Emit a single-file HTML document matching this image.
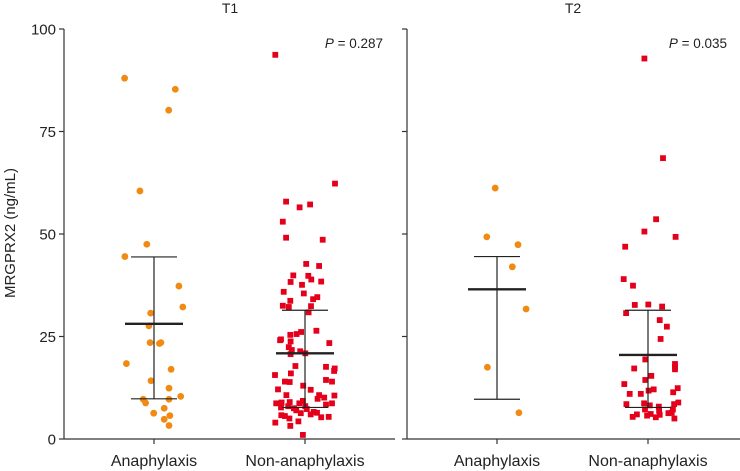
<!DOCTYPE html>
<html><head><meta charset="utf-8"><style>
body{margin:0;background:#fff}
svg{display:block;font-family:"Liberation Sans",sans-serif}
</style></head><body>
<svg id="chart" width="740" height="471" viewBox="0 0 740 471"></svg>
<script>
const categories=["Anaphylaxis","Non-anaphylaxis"];
const panels=["T1","T2"];
const pValues=["0.287","0.035"];
const yTicks=[0,25,50,75,100];
const t1AnaValues=[88,85.3,80.2,60.5,47.5,44.5,37.3,32.2,30.7,27.6,23.5,23.3,23.5,18.4,17,14.2,12.4,10.4,9.7,8.8,9.7,7.5,6.3,5.7,4.8,3.3];
const t1AnaJitter=[-0.98,0.71,0.49,-0.47,-0.24,-0.97,0.83,0.96,-0.11,-0.17,-0.13,0.18,0.23,-0.92,0.57,-0.10,0.5,0.89,-0.36,-0.28,0.5,0.34,-0.01,0.53,0.34,0.5];
const t1NonValues=[93.7,62.3,57.9,57.2,56.5,53,49.1,48.6,42.7,42.2,39.9,39.8,38.9,38.3,38.4,37.6,35.9,35.5,34.6,34.1,33.7,32.5,32.2,32.4,30.9,26.4,26.1,25.6,25.4,24.3,24.1,23.8,23.4,22.4,21.7,21.4,20.7,20.9,17.8,17.6,17.2,16.6,16,15.6,14,13.9,14.4,14,13,12.1,12,10.7,10.7,10.6,10.1,9.8,8.7,8.9,9,9.3,8.7,8.4,8.7,7.7,8.0,7.5,7,8,7.3,6.6,6.4,6,6.3,5.8,5.6,5.3,5.4,5,4,4.3,3.2,1];
const t1NonJitter=[-0.99,1.0,-0.63,0.17,-0.18,-0.74,-0.63,0.59,0.04,0.47,-0.39,0.11,0.21,-0.48,0.54,-0.1,-0.71,-0.04,0.41,0.27,-0.49,-0.74,-0.54,0.2,0.12,0.38,-0.13,-0.28,-0.49,-0.8,-0.83,-0.48,0.81,-0.54,-0.44,-0.16,-0.48,0.01,-0.32,0.7,0.99,0.97,-0.47,-1.0,-0.67,-0.51,0.7,0.9,-0.06,-0.9,0.19,-0.62,0.47,0.98,0.64,0.42,-0.96,-0.78,-0.51,-0.07,-0.19,0.7,0.9,-0.8,-0.56,-0.37,-0.29,0.01,0.06,0.29,0.4,0.19,-0.14,-0.79,-0.67,0.54,0.79,-0.52,-0.99,-0.22,-0.49,-0.07];
const t2AnaValues=[61.2,49.3,47.4,42,31.7,17.5,6.4];
const t2AnaJitter=[-0.06,-0.34,0.7,0.51,0.97,-0.32,0.73];
const t2NonValues=[92.8,68.5,53.6,50.6,49.3,46.9,39,37.4,32.7,32.8,32.3,30.7,29,27.4,24.4,19.4,18.3,17.2,17.6,17,15.4,14.4,13.4,12.1,11.8,12.4,11,11,11.4,8.5,8.7,8.2,7.9,8.5,8.9,7.2,6.9,7.2,6,5.7,6.1,5.9,6.3,6.4,5.4,5.3,5];
const t2NonJitter=[-0.12,0.5,0.27,-0.12,0.92,-0.76,-0.81,-0.5,-0.44,0.01,0.47,-0.73,0.39,0.63,0.42,-0.09,0.9,-0.46,0.9,0.9,0.11,-0.09,-0.79,0.19,0.02,0.99,-0.61,-0.24,0.84,-0.72,-0.13,0.06,0.36,0.87,1.01,-0.1,0.37,0.83,-0.37,-0.03,0.09,0.39,0.68,0.79,-0.51,0.26,0.88];
const means=[[28.1,20.9],[36.5,20.5]];
const sdUpper=[[44.4,31.4],[44.5,31.4]];
const sdLower=[[9.8,7.7],[9.7,7.7]];

const NS="http://www.w3.org/2000/svg";
const svg=document.getElementById('chart');
function mk(tag,attrs,parent){const e=document.createElementNS(NS,tag);for(const k in attrs)e.setAttribute(k,attrs[k]);(parent||svg).appendChild(e);return e;}
function y(v){return 439-4.1*v;}
const panelGeom=[{x0:64,x1:395,centers:[154,305],title:230,pRight:383},{x0:407,x1:740,centers:[497,648],title:573,pRight:727}];
const series=[[[t1AnaValues,t1AnaJitter],[t1NonValues,t1NonJitter]],[[t2AnaValues,t2AnaJitter],[t2NonValues,t2NonJitter]]];
function xPos(p,c,j){return panelGeom[p].centers[c]+j*30;}

const yt=mk('text',{x:0,y:0,transform:'translate(15,233) rotate(-90)','text-anchor':'middle','font-size':'15',fill:'#222'});
yt.textContent='MRGPRX2 (ng/mL)';



panelGeom.forEach((g,p)=>{
  const grp=mk('g',{});
  
  
  const t=mk('text',{x:g.title,y:13,'text-anchor':'middle','font-size':'14',fill:'#222'},grp);
  t.textContent=panels[p];
  
  
  const ax=mk('line',{x1:g.x0,y1:y(100),x2:g.x0,y2:y(0),stroke:'#333','stroke-width':1.2},grp);
  
  
  const xa=mk('line',{x1:g.x0,y1:y(0),x2:g.x1,y2:y(0),stroke:'#333','stroke-width':1.2},grp);
  
  
  yTicks.forEach(v=>{
    const tk=mk('line',{x1:g.x0-5,y1:y(v),x2:g.x0,y2:y(v),stroke:'#333','stroke-width':1.2},grp);
    
    
    if(p===0){
      const tl=mk('text',{x:g.x0-8,y:y(v)+5.5,'text-anchor':'end','font-size':'15',fill:'#222'},grp);
      tl.textContent=v;
      
      
    }
  });
  categories.forEach((c,ci)=>{
    const cx=g.centers[ci];
    const tk=mk('line',{x1:cx,y1:y(0),x2:cx,y2:y(0)+5,stroke:'#333','stroke-width':1.2},grp);
    
    
    const cl=mk('text',{x:cx,y:466,'text-anchor':'middle','font-size':'16',fill:'#222'},grp);
    cl.textContent=c;
    
    
    const [vals,jit]=series[p][ci];
    vals.forEach((v,i)=>{
      const px=xPos(p,ci,jit[i]);
      let m;
      if(ci===0){m=mk('circle',{cx:px,cy:y(v),r:3.4,fill:'#f18a12'},grp);}
      else{m=mk('rect',{x:px-2.9,y:y(v)-2.9,width:5.8,height:5.8,fill:'#e4001b'},grp);}
      
    });
    const eb=mk('g',{stroke:'#222'},grp);
    
    
    mk('line',{x1:cx,y1:y(sdUpper[p][ci]),x2:cx,y2:y(sdLower[p][ci]),'stroke-width':1.2},eb);
    mk('line',{x1:cx-23,y1:y(sdUpper[p][ci]),x2:cx+23,y2:y(sdUpper[p][ci]),'stroke-width':1.2},eb);
    mk('line',{x1:cx-23,y1:y(sdLower[p][ci]),x2:cx+23,y2:y(sdLower[p][ci]),'stroke-width':1.2},eb);
    mk('line',{x1:cx-29,y1:y(means[p][ci]),x2:cx+29,y2:y(means[p][ci]),'stroke-width':2.4},eb);
  });
  const pt=mk('text',{x:g.pRight,y:48,'text-anchor':'end','font-size':'13.5',fill:'#222'},grp);
  pt.innerHTML='<tspan font-style="italic">P</tspan> = '+pValues[p];
  
  
});
</script>
</body></html>
